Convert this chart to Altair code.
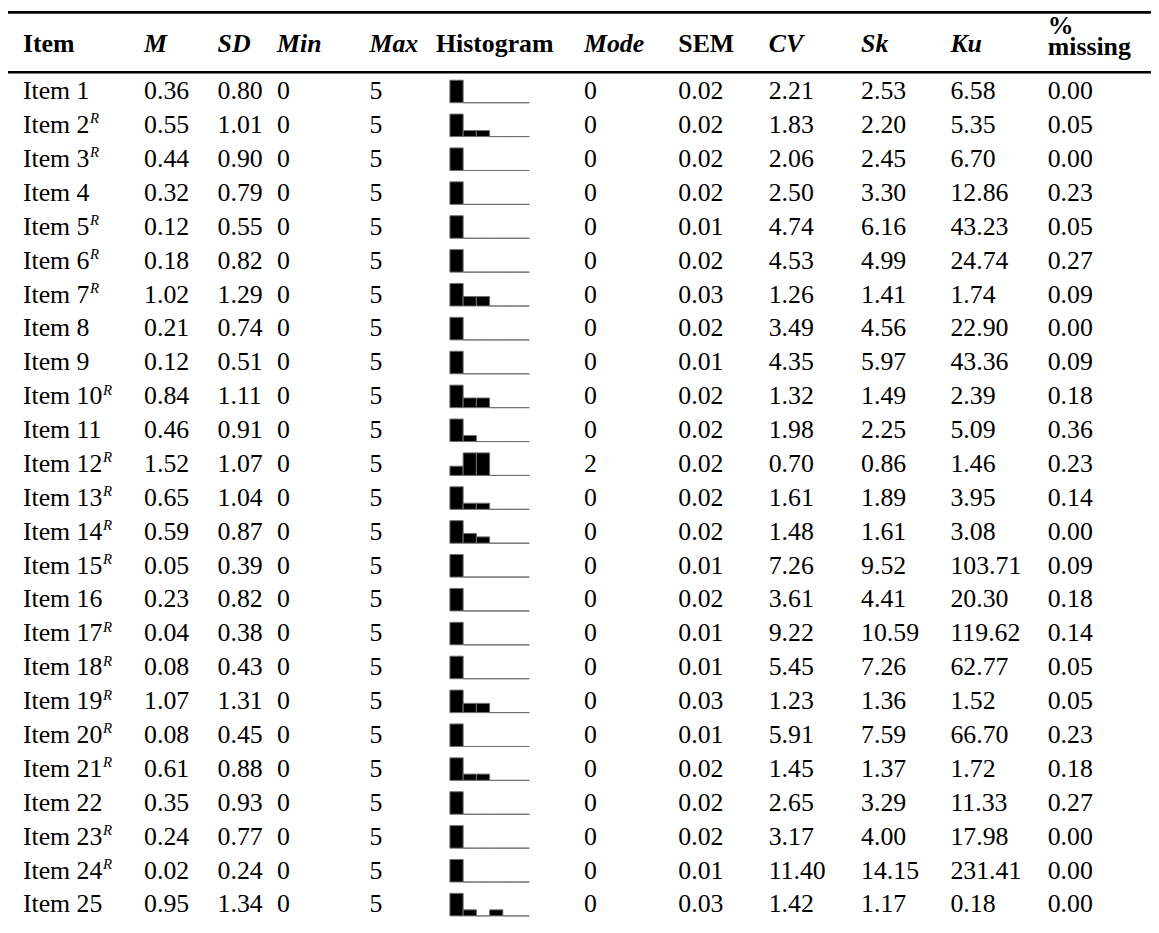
import altair as alt
import pandas as pd

# ---------------- data ----------------
ITEM_NUMBERS = list(range(1, 26))
REVERSED = [2, 3, 5, 6, 7, 10, 12, 13, 14, 15, 17, 18, 19, 20, 21, 23, 24]
M = [0.36, 0.55, 0.44, 0.32, 0.12, 0.18, 1.02, 0.21, 0.12, 0.84, 0.46, 1.52, 0.65,
     0.59, 0.05, 0.23, 0.04, 0.08, 1.07, 0.08, 0.61, 0.35, 0.24, 0.02, 0.95]
SD = [0.80, 1.01, 0.90, 0.79, 0.55, 0.82, 1.29, 0.74, 0.51, 1.11, 0.91, 1.07, 1.04,
      0.87, 0.39, 0.82, 0.38, 0.43, 1.31, 0.45, 0.88, 0.93, 0.77, 0.24, 1.34]
MIN = [0] * 25
MAX = [5] * 25
MODE = [0] * 11 + [2] + [0] * 13
SEM = [0.02, 0.02, 0.02, 0.02, 0.01, 0.02, 0.03, 0.02, 0.01, 0.02, 0.02, 0.02, 0.02,
       0.02, 0.01, 0.02, 0.01, 0.01, 0.03, 0.01, 0.02, 0.02, 0.02, 0.01, 0.03]
CV = [2.21, 1.83, 2.06, 2.50, 4.74, 4.53, 1.26, 3.49, 4.35, 1.32, 1.98, 0.70, 1.61,
      1.48, 7.26, 3.61, 9.22, 5.45, 1.23, 5.91, 1.45, 2.65, 3.17, 11.40, 1.42]
SK = [2.53, 2.20, 2.45, 3.30, 6.16, 4.99, 1.41, 4.56, 5.97, 1.49, 2.25, 0.86, 1.89,
      1.61, 9.52, 4.41, 10.59, 7.26, 1.36, 7.59, 1.37, 3.29, 4.00, 14.15, 1.17]
KU = [6.58, 5.35, 6.70, 12.86, 43.23, 24.74, 1.74, 22.90, 43.36, 2.39, 5.09, 1.46, 3.95,
      3.08, 103.71, 20.30, 119.62, 62.77, 1.52, 66.70, 1.72, 11.33, 17.98, 231.41, 0.18]
MISSING = [0.00, 0.05, 0.00, 0.23, 0.05, 0.27, 0.09, 0.00, 0.09, 0.18, 0.36, 0.23, 0.14,
           0.00, 0.09, 0.18, 0.14, 0.05, 0.05, 0.23, 0.18, 0.27, 0.00, 0.00, 0.00]
# relative bin heights (response 0..5), tallest bin = 1
HIST = [
    [1, 0, 0, 0, 0, 0],
    [1, 0.27, 0.27, 0, 0, 0],
    [1, 0, 0, 0, 0, 0],
    [1, 0, 0, 0, 0, 0],
    [1, 0, 0, 0, 0, 0],
    [1, 0, 0, 0, 0, 0],
    [1, 0.42, 0.42, 0, 0, 0],
    [1, 0, 0, 0, 0, 0],
    [1, 0, 0, 0, 0, 0],
    [1, 0.43, 0.43, 0, 0, 0],
    [1, 0.27, 0, 0, 0, 0],
    [0.41, 1, 1, 0, 0, 0],
    [1, 0.27, 0.27, 0, 0, 0],
    [1, 0.43, 0.28, 0, 0, 0],
    [1, 0, 0, 0, 0, 0],
    [1, 0, 0, 0, 0, 0],
    [1, 0, 0, 0, 0, 0],
    [1, 0, 0, 0, 0, 0],
    [1, 0.41, 0.41, 0, 0, 0],
    [1, 0, 0, 0, 0, 0],
    [1, 0.28, 0.28, 0, 0, 0],
    [1, 0, 0, 0, 0, 0],
    [1, 0, 0, 0, 0, 0],
    [1, 0, 0, 0, 0, 0],
    [1, 0.27, 0, 0.27, 0, 0],
]

HEADERS = ["Item", "M", "SD", "Min", "Max", "Histogram", "Mode", "SEM", "CV", "Sk", "Ku", "%\nmissing"]
HEADER_STYLE = ["bold", "bolditalic", "bolditalic", "bolditalic", "bolditalic", "bold",
                "bolditalic", "bold", "bolditalic", "bolditalic", "bolditalic", "bold"]

# ---------------- layout ----------------
FONT = "Liberation Serif"
FS = 26
W, H = 1151, 911
PAGE_LEFT, PAGE_TOP = 8, 8
ROW0_Y = 88.2
ROW_STEP = 34.12
HEADER_X = [23, 145, 219, 279, 372, 439, 588, 683, 774, 867, 957, 1055]
CELL_X = [23, 145, 219, 279, 372, None, 588, 683, 774, 867, 957, 1055]
HIST_LEFT = 453
BIN_W = 13.33
BAR_H = 22.7
HIST_BASE = 12.0
HEADER_CENTER = 41
RULES_PAGE_Y = [9.3, 69.5]


def to_row(py):
    return (py - ROW0_Y) / ROW_STEP


y_dom = [to_row(PAGE_TOP), to_row(PAGE_TOP + H)]
x_dom = [PAGE_LEFT, PAGE_LEFT + W]
hx_dom = [(PAGE_LEFT - HIST_LEFT) / BIN_W, (PAGE_LEFT + W - HIST_LEFT) / BIN_W]

x_scale = alt.Scale(domain=x_dom, nice=False, zero=False)
y_scale = alt.Scale(domain=y_dom, nice=False, zero=False, reverse=True)


def fmt2(v):
    return f"{v:.2f}"


cols = [
    [f"Item {n}" for n in ITEM_NUMBERS],
    [fmt2(v) for v in M],
    [fmt2(v) for v in SD],
    [str(v) for v in MIN],
    [str(v) for v in MAX],
    None,
    [str(v) for v in MODE],
    [fmt2(v) for v in SEM],
    [fmt2(v) for v in CV],
    [fmt2(v) for v in SK],
    [fmt2(v) for v in KU],
    [fmt2(v) for v in MISSING],
]

cell_rows = []
for ci, col in enumerate(cols):
    if col is None:
        continue
    for i, t in enumerate(col):
        cell_rows.append({"row": i, "x": CELL_X[ci], "text": t})
cells_df = pd.DataFrame(cell_rows)

sup_rows = []
for i, n in enumerate(ITEM_NUMBERS):
    if n in REVERSED:
        width_em = 2.083 + 0.5 * len(str(n))
        sup_rows.append({"row": i, "x": CELL_X[0] + FS * width_em + 0.5, "text": "R"})
sup_df = pd.DataFrame(sup_rows)

head_df = pd.DataFrame({
    "row": [to_row(HEADER_CENTER)] * len(HEADERS),
    "x": HEADER_X,
    "text": HEADERS,
    "style": HEADER_STYLE,
})

hist_rows = []
for i, hs in enumerate(HIST):
    for b, h in enumerate(hs):
        hist_rows.append({"row": i, "bin": b, "h": h})
hist_df = pd.DataFrame(hist_rows)

rules_df = pd.DataFrame({"row": [to_row(v) for v in RULES_PAGE_Y]})

X = alt.X("x:Q", scale=x_scale, axis=None)
Y = alt.Y("row:Q", scale=y_scale, axis=None)

cells = alt.Chart(cells_df).mark_text(
    font=FONT, fontSize=FS, align="left", baseline="alphabetic", dy=8.5, color="black"
).encode(x=X, y=Y, text="text:N")

sups = alt.Chart(sup_df).mark_text(
    font=FONT, fontSize=15, fontStyle="italic", align="left", baseline="alphabetic",
    dy=-1.2, color="black"
).encode(x=X, y=Y, text="text:N")

head_bold = alt.Chart(head_df).transform_filter(
    "datum.style == 'bold' && indexof(datum.text, '\\n') < 0"
).mark_text(
    font=FONT, fontSize=FS, fontWeight="bold", align="left", baseline="alphabetic",
    dy=8.5, color="black"
).encode(x=X, y=Y, text="text:N")

head_multi = alt.Chart(head_df).transform_filter(
    "indexof(datum.text, '\\n') >= 0"
).mark_text(
    font=FONT, fontSize=FS, fontWeight="bold", align="left", baseline="alphabetic",
    dy=-10, lineBreak="\n", lineHeight=21, color="black"
).encode(x=X, y=Y, text="text:N")

head_it = alt.Chart(head_df).transform_filter(
    "datum.style == 'bolditalic'"
).mark_text(
    font=FONT, fontSize=FS, fontWeight="bold", fontStyle="italic", align="left",
    baseline="alphabetic", dy=8.5, color="black"
).encode(x=X, y=Y, text="text:N")

rules = alt.Chart(rules_df).mark_rule(color="black", strokeWidth=2.7).encode(
    y=Y, x=alt.value(0), x2=alt.value(W)
)

hist = alt.Chart(hist_df).transform_calculate(
    bin2="datum.bin + 1",
    ybot=f"datum.row + {HIST_BASE / ROW_STEP}",
    ytop=f"datum.row + {HIST_BASE / ROW_STEP} - datum.h * {BAR_H / ROW_STEP}",
).mark_rect(fill="black", stroke="#707070", strokeWidth=1).encode(
    x=alt.X("bin:Q", scale=alt.Scale(domain=hx_dom, nice=False, zero=False), axis=None),
    x2="bin2:Q",
    y=alt.Y("ytop:Q", scale=y_scale, axis=None),
    y2="ybot:Q",
)

chart = alt.layer(rules, hist, cells, sups, head_bold, head_multi, head_it).resolve_scale(
    x="independent"
).properties(
    width=W, height=H, padding=0, background="white",
    autosize=alt.AutoSizeParams(type="none")
).configure_view(strokeWidth=0, stroke="transparent")

chart.save("out.html", embed_options={"renderer": "svg", "actions": False})
